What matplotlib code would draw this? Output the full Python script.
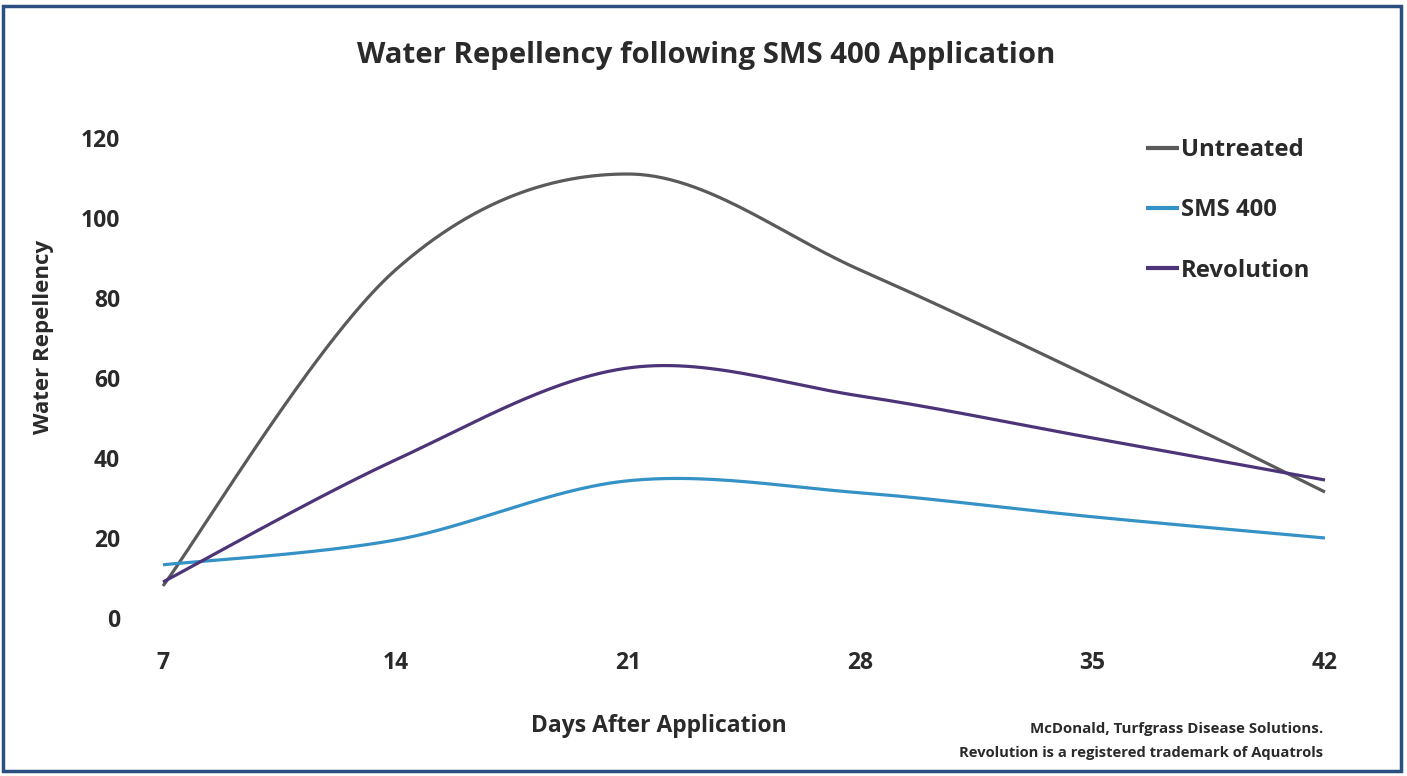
import numpy as np
import matplotlib
matplotlib.use("Agg")
import matplotlib.pyplot as plt
from matplotlib.patches import Rectangle

# ---- data ----
days = [7, 14, 21, 28, 35, 42]
untreated = [8, 87, 111, 87, 60, 31.5]
sms400 = [13.3, 19.5, 34.3, 31.3, 25.3, 20]
revolution = [9, 39.5, 62.5, 55.5, 45, 34.5]
series_names = ["Untreated", "SMS 400", "Revolution"]
yticks = [0, 20, 40, 60, 80, 100, 120]

colors = {"Untreated": "#5a5a5a", "SMS 400": "#3592c6", "Revolution": "#4c3479"}

plt.rcParams['font.family'] = ['Open Sans', 'DejaVu Sans']
TXT = "#2a2a2a"


def excel_smooth(x, y, n=60):
    """Excel-style smoothed line (Catmull-Rom through Bezier segments)."""
    x = np.asarray(x, float)
    y = np.asarray(y, float)
    px = np.concatenate([[x[0]], x, [x[-1]]])
    py = np.concatenate([[y[0]], y, [y[-1]]])
    xs, ys = [], []
    t = np.linspace(0, 1, n)
    for i in range(1, len(px) - 2):
        p0 = np.array([px[i], py[i]])
        p3 = np.array([px[i + 1], py[i + 1]])
        c1 = p0 + (np.array([px[i + 1], py[i + 1]]) - np.array([px[i - 1], py[i - 1]])) / 6
        c2 = p3 - (np.array([px[i + 2], py[i + 2]]) - np.array([px[i], py[i]])) / 6
        b = ((1 - t) ** 3)[:, None] * p0 + (3 * (1 - t) ** 2 * t)[:, None] * c1 + \
            (3 * (1 - t) * t ** 2)[:, None] * c2 + (t ** 3)[:, None] * p3
        xs.append(b[:, 0])
        ys.append(b[:, 1])
    return np.concatenate(xs), np.concatenate(ys)


W, H = 1407, 776
fig = plt.figure(figsize=(W / 100, H / 100), dpi=100)
fig.patch.set_facecolor("white")

# frame
fig.patches.append(Rectangle((3 / W, 5 / H), 1398 / W, 765 / H, transform=fig.transFigure,
                             fill=False, edgecolor="#2b4f80", linewidth=2.5))

ax = fig.add_axes([163 / W, 1 - 618 / H, (1325 - 163) / W, (618 - 138) / H])
ax.set_xlim(7, 42)
ax.set_ylim(0, 120)
for s in ax.spines.values():
    s.set_visible(False)

for name, vals in zip(series_names, [untreated, sms400, revolution]):
    sx, sy = excel_smooth(days, vals)
    ax.plot(sx, sy, color=colors[name], lw=2.3, label=name, clip_on=False,
            solid_capstyle="butt")

ax.set_xticks(days)
ax.set_xticklabels([str(d) for d in days], fontsize=16.5, fontweight="bold", color=TXT)
ax.set_yticks(yticks)
ax.set_yticklabels([str(v) for v in yticks], fontsize=16.5, fontweight="bold", color=TXT)
ax.tick_params(axis="x", length=0, pad=24)
ax.tick_params(axis="y", length=0, pad=31)

fig.text(706 / W, 1 - 56 / H, "Water Repellency following SMS 400 Application",
         ha="center", va="center", fontsize=21.2, fontweight="bold", color=TXT)
fig.text(44 / W, 1 - 337 / H, "Water Repellency", rotation=90, ha="center", va="center",
         fontsize=16, fontweight="bold", color=TXT)
fig.text(659 / W, 1 - 726 / H, "Days After Application", ha="center", va="center",
         fontsize=16.5, fontweight="bold", color=TXT)
fig.text(1323 / W, 1 - 729 / H, "McDonald, Turfgrass Disease Solutions.", ha="right",
         va="center", fontsize=10.8, fontweight="bold", color=TXT)
fig.text(1323 / W, 1 - 753 / H, "Revolution is a registered trademark of Aquatrols", ha="right",
         va="center", fontsize=10.6, fontweight="bold", color=TXT)

leg = ax.legend(loc="upper left", bbox_to_anchor=(1146 / W, 1 - 138 / H),
                bbox_transform=fig.transFigure, frameon=False, fontsize=17.2,
                handlelength=1.4, handletextpad=0.05, labelspacing=1.52, borderaxespad=0,
                borderpad=0)
for t in leg.get_texts():
    t.set_fontweight("bold")
    t.set_color(TXT)
for l in leg.get_lines():
    l.set_linewidth(3)

fig.savefig("out.png", dpi=100)
